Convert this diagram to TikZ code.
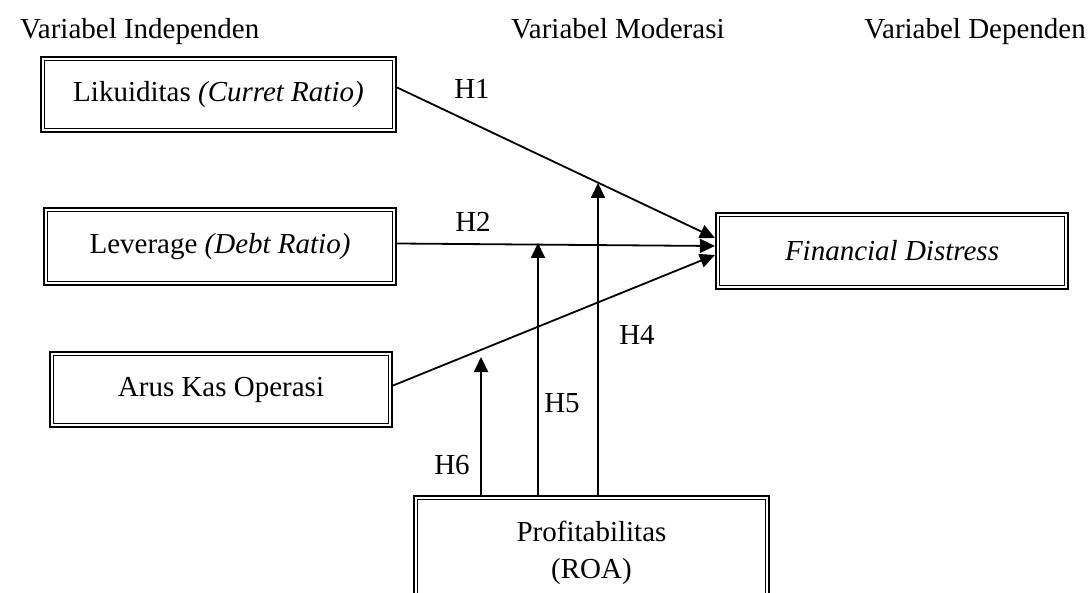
\documentclass[tikz,border=0pt]{standalone}
\usepackage{fontspec}
\setmainfont{Liberation Serif}
\usetikzlibrary{arrows.meta}

\begin{document}
\begin{tikzpicture}[x=1pt, y=-1pt,
        every node/.style={font=\fontsize{29}{37}\selectfont},
        dbox/.style={draw, line width=2.2pt, align=center, inner sep=0pt,
                path picture={\draw[line width=1pt] ([shift={(3.6pt,-3.6pt)}]path picture bounding box.north west) rectangle ([shift={(-3.6pt,3.6pt)}]path picture bounding box.south east);}},
        link/.style={line width=1.8pt, -{Triangle[length=15pt, width=14pt]}}]

        \useasboundingbox (0,0) rectangle (1091,593);

        % Column titles
        \node[anchor=base west, inner sep=0pt] (tind) at (20,39) {Variabel Independen};
        \node[anchor=base west, inner sep=0pt] (tmod) at (511,39) {Variabel Moderasi};
        \node[anchor=base east, inner sep=0pt] (tdep) at (1086,39) {Variabel Dependen};

        % The boxes
        \node[dbox, minimum width=355, minimum height=75] (liq) at (218.5,94.5) {Likuiditas \textit{(Curret Ratio)}};
        \node[dbox, minimum width=352, minimum height=77] (lev) at (220,246.5) {Leverage \textit{(Debt Ratio)}};
        \node[dbox, minimum width=342, minimum height=75] (aks) at (221,389.5) {Arus Kas Operasi};
        \node[dbox, minimum width=352, minimum height=76] (fin) at (892,251) {\textit{Financial Distress}};
        \node[dbox, minimum width=355, inner ysep=25pt, anchor=north] (prof) at (591.5,495) {Profitabilitas\\(ROA)};

        % Direct effects
        \draw[link] ([yshift=7pt]liq.east) -- ([yshift=13pt]fin.west);
        \draw[link] ([yshift=3pt]lev.east) -- ([yshift=5pt]fin.west);
        \draw[link] ([yshift=4pt]aks.east) -- ([yshift=-4pt]fin.west);

        % Moderating effects
        \coordinate (m4) at (598,183);
        \coordinate (m5) at (538,243);
        \coordinate (m6) at (481,357);
        \draw[link] (m4 |- prof.north) -- (m4);
        \draw[link] (m5 |- prof.north) -- (m5);
        \draw[link] (m6 |- prof.north) -- (m6);

        % Hypotheses
        \node (h1) at (472,89) {H1};
        \node (h2) at (473,222) {H2};
        \node (h4) at (637,335) {H4};
        \node (h5) at (562,403) {H5};
        \node (h6) at (452,465) {H6};
\end{tikzpicture}
\end{document}
